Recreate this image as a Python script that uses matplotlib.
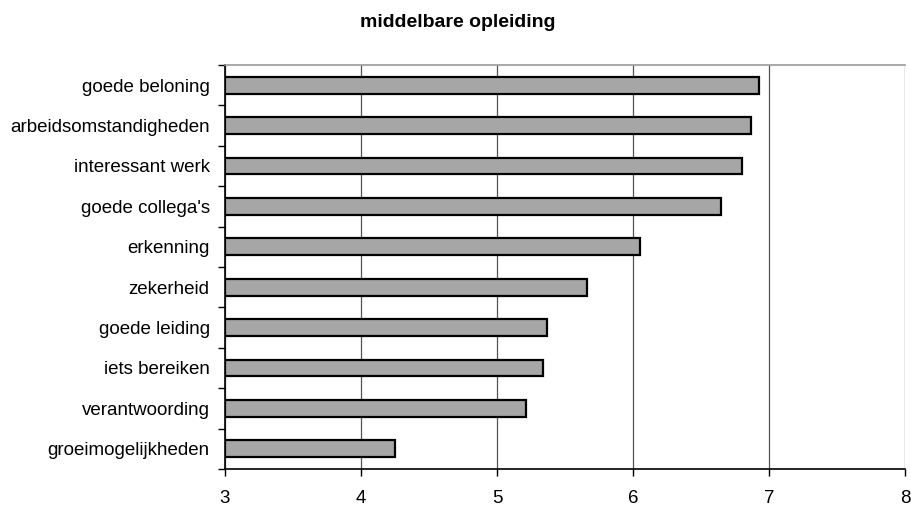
import matplotlib
matplotlib.use("Agg")
import matplotlib.pyplot as plt
import numpy as np

plt.rcParams['font.family'] = ['Liberation Sans', 'DejaVu Sans']

# categories listed top to bottom
labels = ["goede beloning", "arbeidsomstandigheden", "interessant werk",
          "goede collega's", "erkenning", "zekerheid", "goede leiding",
          "iets bereiken", "verantwoording", "groeimogelijkheden"]
scores = [6.93, 6.87, 6.80, 6.65, 6.05, 5.66, 5.37, 5.34, 5.21, 4.25]
xticks = [3, 4, 5, 6, 7, 8]

fig = plt.figure(figsize=(9.11, 5.08), dpi=100)
ax = fig.add_axes([225 / 911, 1 - 469 / 508, 680 / 911, 404 / 508])

n = len(labels)
ypos = np.arange(n)[::-1]
ax.barh(ypos, np.array(scores) - 3, left=3, height=0.42,
        color="#a6a6a6", edgecolor="black", linewidth=1.6, zorder=3)

ax.set_xlim(3, 8)
ax.set_ylim(-0.5, n - 0.5)
ax.set_xticks(xticks)
ax.set_xticklabels([str(t) for t in xticks], fontsize=13.5)
ax.xaxis.grid(True, color="#555555", linewidth=0.9, zorder=0)

# labels at bar centres, tick marks between categories
ax.set_yticks(ypos)
ax.set_yticklabels(labels, fontsize=13.5)
ax.tick_params(axis='y', length=0, pad=11)
ax.set_yticks(np.arange(-0.5, n, 1), minor=True)
ax.tick_params(axis='y', which='minor', length=5, width=1, color='black')
ax.tick_params(axis='x', length=5, width=1, pad=10, direction='out')

for side in ("left", "bottom"):
    ax.spines[side].set_linewidth(1.2)
    ax.spines[side].set_color("black")
ax.spines["top"].set_color("#999999")
ax.spines["top"].set_linewidth(1.2)
ax.spines["right"].set_visible(False)

fig.text(458 / 911, 1 - 27 / 508, "middelbare opleiding", ha="center",
         va="baseline", fontsize=14, fontweight="bold")

fig.savefig("out.png", dpi=100)
